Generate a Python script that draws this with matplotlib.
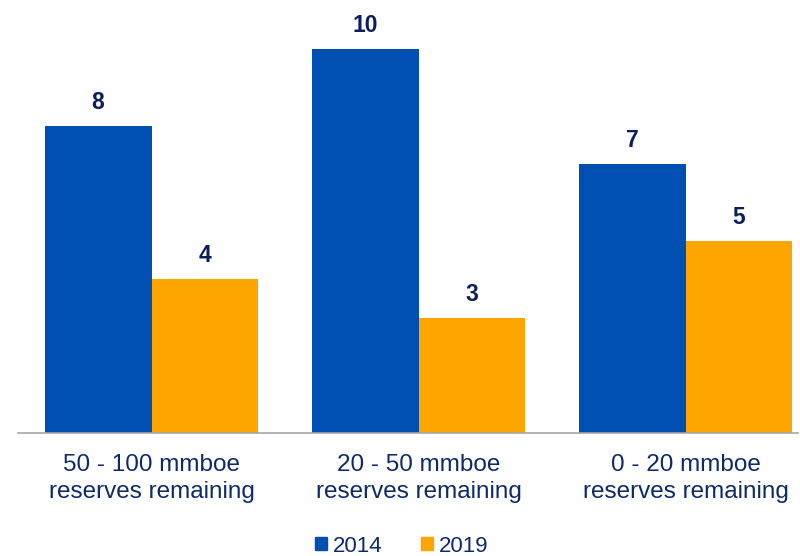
import matplotlib
matplotlib.use("Agg")
import matplotlib.pyplot as plt
from matplotlib.patches import Patch

categories = ["50 - 100 mmboe\nreserves remaining", "20 - 50 mmboe\nreserves remaining", "0 - 20 mmboe\nreserves remaining"]
series_names = ["2014", "2019"]
values_2014 = [8, 10, 7]
values_2019 = [4, 3, 5]

blue = "#0050B4"
orange = "#FFA500"
navy = "#0D2A6B"
label_navy = "#0B1F5C"

plt.rcParams['font.family'] = ['Liberation Sans', 'DejaVu Sans']

fig = plt.figure(figsize=(8, 5.56), dpi=100)
ax = fig.add_axes([18/800, 1-433/556, (798-18)/800, 433/556])

x = list(range(len(categories)))
w = 0.4
b1 = ax.bar([i - w/2 for i in x], values_2014, width=w, color=blue)
b2 = ax.bar([i + w/2 for i in x], values_2019, width=w, color=orange)

for bars, vals in ((b1, values_2014), (b2, values_2019)):
    for rect, v in zip(bars, vals):
        ax.text(rect.get_x() + rect.get_width()/2, v + 0.32, str(v), ha='center', va='bottom',
                fontsize=16.5, fontweight='bold', color=label_navy)

ax.set_xlim(-0.5, 2.421)
ax.set_ylim(0, 433/38.4)
ax.set_xticks(x)
ax.set_xticklabels(categories, fontsize=17.5, color=navy, linespacing=1.3)
ax.tick_params(axis='x', length=0, pad=15)
ax.set_yticks([])
for s in ['top', 'right', 'left']:
    ax.spines[s].set_visible(False)
ax.spines['bottom'].set_color('#A6A6A6')
ax.spines['bottom'].set_linewidth(1.2)

handles = [Patch(color=blue), Patch(color=orange)]
leg = fig.legend(handles, series_names, loc='center', bbox_to_anchor=(0.502, 1-546/556), ncol=2,
                 frameon=False, fontsize=16, handlelength=0.54, handleheight=0.54,
                 handletextpad=0.25, columnspacing=1.75, borderpad=0)
for t in leg.get_texts():
    t.set_color(navy)

fig.savefig("out.png", dpi=100)
